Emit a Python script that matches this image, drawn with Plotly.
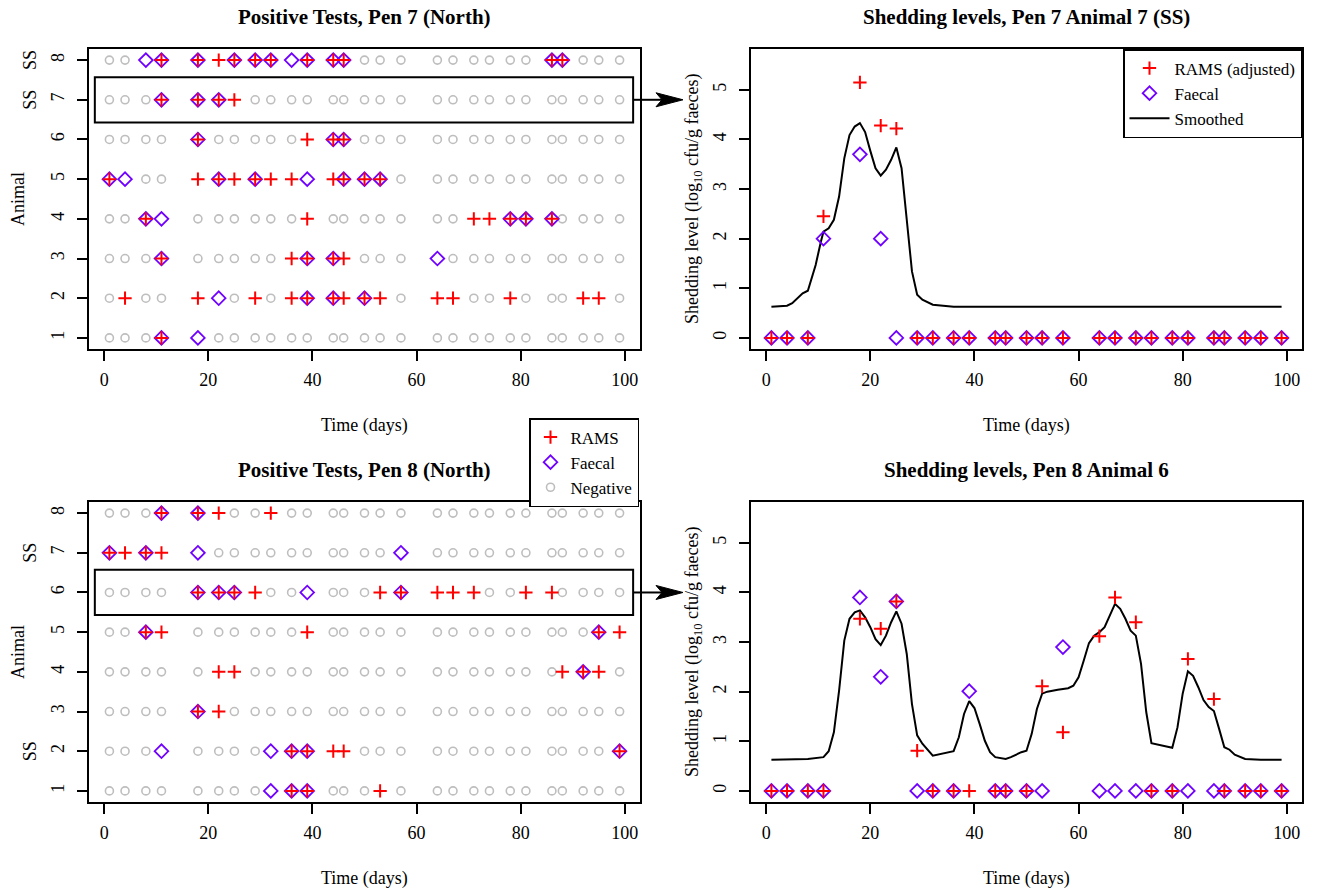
import plotly.graph_objects as go

# ---------------- data ----------------
days = [1, 4, 8, 11, 18, 22, 25, 29, 32, 36, 39, 44, 46, 50, 53, 57, 64, 67, 71, 74, 78, 81, 86, 88, 92, 95, 99]
animals = [1, 2, 3, 4, 5, 6, 7, 8]

# test status per sampling day: N = negative, R = RAMS only, F = faecal only, B = both positive
pen7_status = [
    "NNNBFNNNNNNNNNNNNNNNNNNNNNN",  # animal 1
    "NRNNRFNRNRBBRBRNRRNNRNNNRRN",  # animal 2
    "NNNBNNNNNRBBRNNNFNNNNNNNNNN",  # animal 3
    "NNBFNNNNNNRNNNNNNNRRBBBNNNN",  # animal 4
    "BFNNRBRBRRFRBBBNNNNNNNNNNNN",  # animal 5
    "NNNNBNNNNNRBBNNNNNNNNNNNNNN",  # animal 6
    "NNNBBBRNNNNNNNNNNNNNNNNNNNN",  # animal 7
    "NNFBBRBBBFBBBNNNNNNNNNBBNNN",  # animal 8
]
pen8_status = [
    "NNNNNNNNFBBNNNRNNNNNNNNNNNN",  # animal 1
    "NNNFNNNNFBBRRNNNNNNNNNNNNNB",  # animal 2
    "NNNNBRNNNNNNNNNNNNNNNNNNNNN",  # animal 3
    "NNNNNRRNNNNNNNNNNNNNNNNRBRN",  # animal 4
    "NNBRNNNNNNRNNNNNNNNNNNNNNBR",  # animal 5
    "NNNNBBBRNNFNNNRBRRRNNRRNNNN",  # animal 6
    "BRBRFNNNNNNNNNNFNNNNNNNNNNN",  # animal 7
    "NNNBBRNNRNNNNNNNNNNNNNNNNNN",  # animal 8
]
pen7_ss = [7, 8]
pen8_ss = [2, 7]
pen7_focus = 7
pen8_focus = 6

# shedding levels (log10 cfu/g faeces) at each sampling day
rams_p7a7 = [0, 0, 0, 2.45, 5.15, 4.28, 4.22, 0, 0, 0, 0, 0, 0, 0, 0, 0, 0, 0, 0, 0, 0, 0, 0, 0, 0, 0, 0]
faecal_p7a7 = [0, 0, 0, 2.0, 3.7, 2.0, 0, 0, 0, 0, 0, 0, 0, 0, 0, 0, 0, 0, 0, 0, 0, 0, 0, 0, 0, 0, 0]
rams_p8a6 = [0, 0, 0, 0, 3.47, 3.27, 3.82, 0.81, 0, 0, 0, 0, 0, 0, 2.11, 1.18, 3.12, 3.90, 3.40, 0, 0, 2.66, 1.85, 0, 0, 0, 0]
faecal_p8a6 = [0, 0, 0, 0, 3.90, 2.30, 3.82, 0, 0, 0, 2.01, 0, 0, 0, 0, 2.90, 0, 0, 0, 0, 0, 0, 0, 0, 0, 0, 0]

smooth_p7a7_t = [1, 4, 5, 7, 8, 9.5, 10.5, 11, 12, 13, 14, 15, 16, 17, 18, 19, 20, 21, 22, 23, 24, 25, 26, 27, 28, 29, 30, 32, 36, 99]
smooth_p7a7_v = [0.63, 0.65, 0.70, 0.90, 0.95, 1.47, 1.94, 2.14, 2.21, 2.38, 2.85, 3.62, 4.09, 4.26, 4.33, 4.15, 3.77, 3.42, 3.27, 3.39, 3.59, 3.84, 3.42, 2.35, 1.34, 0.87, 0.77, 0.67, 0.63, 0.63]

smooth_p8a6_t = [1, 8, 11, 12, 13, 14, 15, 16, 17, 18, 19, 20, 21, 22, 23, 24, 25, 26, 27, 28, 29, 30, 32, 34, 36, 37, 38, 39, 40, 41, 42, 43, 44, 46, 47, 49, 50, 51, 52, 53, 54, 56, 58, 59, 60, 61, 62, 63, 64, 65, 66, 67, 68, 69, 70, 71, 72, 73, 74, 76, 78, 79, 80, 81, 82, 83, 84, 85, 86, 87, 88, 89, 90, 92, 95, 99]
smooth_p8a6_v = [0.63, 0.645, 0.68, 0.80, 1.18, 2.02, 3.03, 3.47, 3.60, 3.64, 3.50, 3.30, 3.06, 2.94, 3.13, 3.40, 3.62, 3.37, 2.76, 1.75, 1.12, 0.95, 0.71, 0.75, 0.80, 1.08, 1.55, 1.81, 1.67, 1.35, 1.01, 0.78, 0.68, 0.645, 0.68, 0.78, 0.81, 1.15, 1.65, 1.96, 2.00, 2.04, 2.07, 2.12, 2.29, 2.63, 2.98, 3.13, 3.20, 3.30, 3.53, 3.77, 3.67, 3.47, 3.23, 3.13, 2.56, 1.59, 0.96, 0.91, 0.87, 1.28, 1.96, 2.41, 2.32, 2.09, 1.83, 1.69, 1.61, 1.25, 0.88, 0.83, 0.73, 0.645, 0.63, 0.63]

x_ticks = [0, 20, 40, 60, 80, 100]
shed_ticks = [0, 1, 2, 3, 4, 5]

# ---------------- styling ----------------
W, H = 1317, 892
FONT = "Liberation Serif, Times New Roman, serif"
RED = "#FF0000"
PURPLE = "#7000FF"
GREY = "#BEBEBE"


def px(x):
    return x / W


def py(y):
    return 1 - y / H


dom_xl = [px(89), px(640)]
dom_xr = [px(751), px(1302)]
dom_yt = [py(349), py(49)]
dom_yb = [py(802), py(502)]

XR = [-2.92, 102.92]
YL = [0.72, 8.28]
YR = [-0.224, 5.824]

m_neg = dict(symbol="circle-open", size=8, color=GREY, line=dict(width=1.6, color=GREY))
m_fae = dict(symbol="diamond-open", size=10.5, color=PURPLE, line=dict(width=1.8, color=PURPLE))
m_rams = dict(symbol="cross-thin-open", size=9.5, color=RED, line=dict(width=2, color=RED))

fig = go.Figure()


def split_status(status):
    out = {"N": ([], []), "F": ([], []), "R": ([], [])}
    for a, row in zip(animals, status):
        for d, c in zip(days, row):
            if c == "N":
                out["N"][0].append(d); out["N"][1].append(a)
            if c in "FB":
                out["F"][0].append(d); out["F"][1].append(a)
            if c in "RB":
                out["R"][0].append(d); out["R"][1].append(a)
    return out


def add_pen(status, xa, ya, with_legend):
    s = split_status(status)
    fig.add_trace(go.Scatter(x=s["N"][0], y=s["N"][1], mode="markers", marker=m_neg, xaxis=xa, yaxis=ya,
                             name="Negative", showlegend=with_legend, legend="legend", legendrank=3, hoverinfo="skip"))
    fig.add_trace(go.Scatter(x=s["F"][0], y=s["F"][1], mode="markers", marker=m_fae, xaxis=xa, yaxis=ya,
                             name="Faecal", showlegend=with_legend, legend="legend", legendrank=2, hoverinfo="skip"))
    fig.add_trace(go.Scatter(x=s["R"][0], y=s["R"][1], mode="markers", marker=m_rams, xaxis=xa, yaxis=ya,
                             name="RAMS", showlegend=with_legend, legend="legend", legendrank=1, hoverinfo="skip"))


def add_shed(rams, fae, st, sv, xa, ya, with_legend):
    fig.add_trace(go.Scatter(x=st, y=sv, mode="lines", line=dict(color="black", width=2), xaxis=xa, yaxis=ya,
                             name="Smoothed", showlegend=with_legend, legend="legend2", legendrank=3, hoverinfo="skip"))
    fig.add_trace(go.Scatter(x=days, y=fae, mode="markers", marker=m_fae, xaxis=xa, yaxis=ya,
                             name="Faecal", showlegend=with_legend, legend="legend2", legendrank=2, hoverinfo="skip"))
    fig.add_trace(go.Scatter(x=days, y=rams, mode="markers", marker=m_rams, xaxis=xa, yaxis=ya,
                             name="RAMS (adjusted)", showlegend=with_legend, legend="legend2", legendrank=1, hoverinfo="skip"))


add_pen(pen7_status, "x", "y", False)
add_shed(rams_p7a7, faecal_p7a7, smooth_p7a7_t, smooth_p7a7_v, "x2", "y2", True)
add_pen(pen8_status, "x3", "y3", True)
add_shed(rams_p8a6, faecal_p8a6, smooth_p8a6_t, smooth_p8a6_v, "x4", "y4", False)

tickfont = dict(family=FONT, size=18, color="black")
ax_common = dict(showline=True, linecolor="black", linewidth=1.5, mirror=True, ticks="outside", ticklen=10,
                 tickwidth=1.5, tickcolor="black", showgrid=False, zeroline=False, tickfont=tickfont,
                 fixedrange=True)


def xaxis(dom, anchor):
    return dict(ax_common, domain=dom, range=XR, tickvals=x_ticks, anchor=anchor, ticklabelstandoff=4)


def yaxis(dom, anchor, rng, tv):
    return dict(ax_common, domain=dom, range=rng, tickvals=tv, anchor=anchor, tickangle=-90, ticklabelstandoff=6)


legend_font = dict(family=FONT, size=17, color="black")
fig.update_layout(
    width=W, height=H, margin=dict(l=0, r=0, t=0, b=0),
    paper_bgcolor="white", plot_bgcolor="white",
    font=dict(family=FONT, size=18, color="black"),
    xaxis=xaxis(dom_xl, "y"), yaxis=yaxis(dom_yt, "x", YL, animals),
    xaxis2=xaxis(dom_xr, "y2"), yaxis2=yaxis(dom_yt, "x2", YR, shed_ticks),
    xaxis3=xaxis(dom_xl, "y3"), yaxis3=yaxis(dom_yb, "x3", YL, animals),
    xaxis4=xaxis(dom_xr, "y4"), yaxis4=yaxis(dom_yb, "x4", YR, shed_ticks),
    legend=dict(x=px(639), xanchor="right", y=py(418), yanchor="top", bgcolor="white",
                bordercolor="black", borderwidth=1.5, font=legend_font, itemwidth=30,
                tracegroupgap=0),
    legend2=dict(x=px(1302), xanchor="right", y=py(49), yanchor="top", bgcolor="white",
                 bordercolor="black", borderwidth=1.5, font=legend_font, itemwidth=40,
                 tracegroupgap=0),
    showlegend=True,
)

ann = []
titles = [
    ("Positive Tests, Pen 7 (North)", (89 + 640) / 2, 17),
    ("Shedding levels, Pen 7 Animal 7 (SS)", (751 + 1302) / 2, 17),
    ("Positive Tests, Pen 8 (North)", (89 + 640) / 2, 470),
    ("Shedding levels, Pen 8 Animal 6", (751 + 1302) / 2, 470),
]
for t, x, y in titles:
    ann.append(dict(text="<b>%s</b>" % t, x=px(x), y=py(y), xref="paper", yref="paper", showarrow=False,
                    xanchor="center", yanchor="middle", font=dict(family=FONT, size=21)))
for x in [(89 + 640) / 2, (751 + 1302) / 2]:
    for y in [425, 878]:
        ann.append(dict(text="Time (days)", x=px(x), y=py(y), xref="paper", yref="paper", showarrow=False,
                        xanchor="center", yanchor="middle", font=dict(family=FONT, size=18)))
for y in [(49 + 349) / 2, (502 + 802) / 2]:
    ann.append(dict(text="Animal", x=px(18), y=py(y), xref="paper", yref="paper", showarrow=False,
                    textangle=-90, xanchor="center", yanchor="middle", font=dict(family=FONT, size=18)))
    ann.append(dict(text="Shedding level (log<sub>10</sub> cfu/g faeces)", x=px(693), y=py(y), xref="paper",
                    yref="paper", showarrow=False, textangle=-90, xanchor="center", yanchor="middle",
                    font=dict(family=FONT, size=18)))
for a in pen7_ss:
    ann.append(dict(text="SS", x=px(30), y=a, xref="paper", yref="y", showarrow=False, textangle=-90,
                    xanchor="center", yanchor="middle", font=dict(family=FONT, size=18)))
for a in pen8_ss:
    ann.append(dict(text="SS", x=px(30), y=a, xref="paper", yref="y3", showarrow=False, textangle=-90,
                    xanchor="center", yanchor="middle", font=dict(family=FONT, size=18)))
fig.update_layout(annotations=ann)

shapes = []
row_px = (349 - 49) / (YL[1] - YL[0])
for focus, yref, xref in [(pen7_focus, "y", "x"), (pen8_focus, "y3", "x3")]:
    shapes.append(dict(type="rect", xref=xref, yref=yref, x0=-1.8, x1=101.6, y0=focus - 0.57, y1=focus + 0.57,
                       line=dict(color="black", width=2), fillcolor="rgba(0,0,0,0)", layer="above"))
    shapes.append(dict(type="line", xref="paper", yref=yref, x0=px(633), x1=px(664), y0=focus, y1=focus,
                       line=dict(color="black", width=2)))
    dy = 7 / row_px
    path = "M %f,%f L %f,%f L %f,%f L %f,%f Z" % (px(683), focus, px(656), focus + dy, px(662), focus,
                                                   px(656), focus - dy)
    shapes.append(dict(type="path", xref="paper", yref=yref, path=path, fillcolor="black",
                       line=dict(color="black", width=1)))
fig.update_layout(shapes=shapes)

fig.write_html("out.html")
